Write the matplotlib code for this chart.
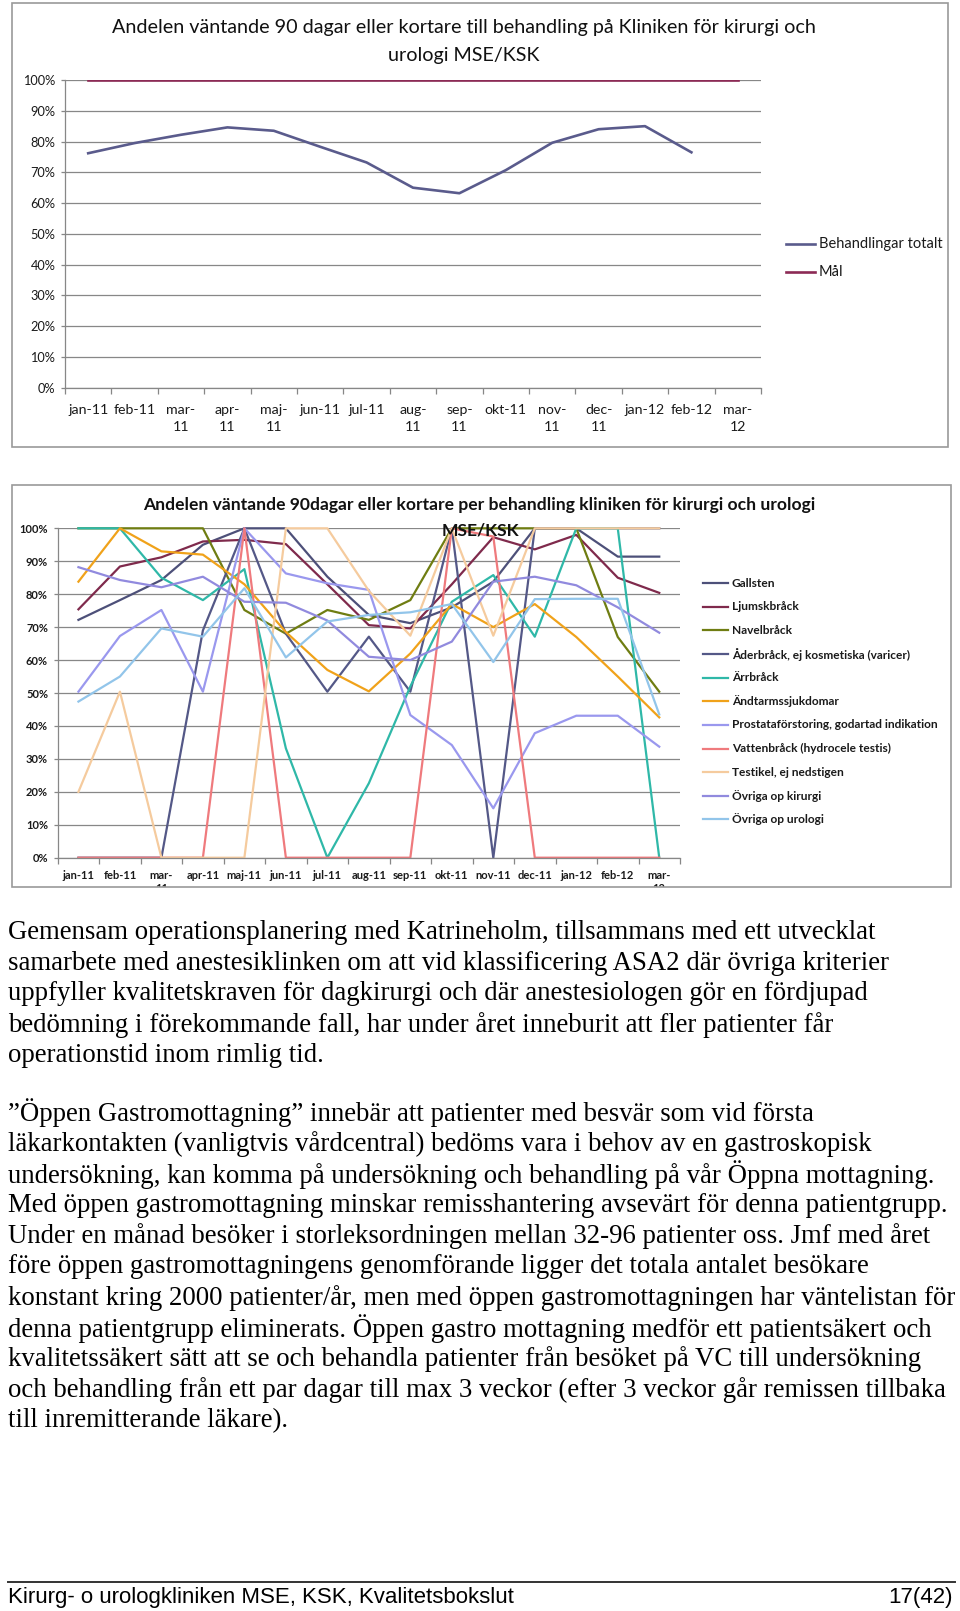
import matplotlib
matplotlib.use("Agg")
import matplotlib.pyplot as plt
from matplotlib.patches import Rectangle
from matplotlib.lines import Line2D
from matplotlib.ticker import FixedLocator, PercentFormatter
import numpy as np

# ---------------- data ----------------
top_labels = ['jan-11', 'feb-11', 'mar-\n11', 'apr-\n11', 'maj-\n11', 'jun-11', 'jul-11',
              'aug-\n11', 'sep-\n11', 'okt-11', 'nov-\n11', 'dec-\n11', 'jan-12', 'feb-12', 'mar-\n12']
behandlingar_totalt = [76.2, 79.5, 82.2, 84.6, 83.5, 78.3, 73.2, 65.0, 63.2, 70.7, 79.6, 84.0, 85.0, 76.5, np.nan]
mal = [100, 100, 100, 100, 100, 100, 100, 100, 100, 100, 100, 100, 100, 100, 100]

bottom_labels = ['jan-11', 'feb-11', 'mar-\n11', 'apr-11', 'maj-11', 'jun-11', 'jul-11', 'aug-11',
                 'sep-11', 'okt-11', 'nov-11', 'dec-11', 'jan-12', 'feb-12', 'mar-\n12']
gallsten = [72.2, 78.2, 84.3, 95.0, 100, 100, 85.3, 73.7, 71.2, 76.0, 83.8, 100, 100, 91.4, 91.4]
ljumskbrack = [75.4, 88.4, 91.2, 96.0, 96.5, 95.2, 83.0, 70.6, 69.6, 83.0, 97.3, 93.6, 98.0, 85.0, 80.4]
navelbrack = [100, 100, 100, 100, 75.2, 68.0, 75.2, 72.2, 78.2, 100, 100, 100, 100, 67.0, 50.4]
aderbrack = [0, 0, 0, 69.0, 100, 68.0, 50.4, 67.1, 50.4, 100, 0, 100, 100, 100, 100]
arrbrack = [100, 100, 85.0, 78.2, 87.6, 33.2, 0, 22.6, 52.0, 77.7, 85.8, 67.1, 100, 100, 0]
andtarm = [83.8, 100, 93.0, 92.0, 83.0, 68.5, 57.0, 50.5, 62.0, 77.0, 70.0, 77.0, 67.0, 55.0, 42.6]
prostata = [50.4, 67.3, 75.2, 50.4, 100, 86.3, 83.3, 81.3, 43.3, 34.2, 15.0, 37.8, 43.1, 43.1, 33.7]
vattenbrack = [0, 0, 0, 0, 100, 0, 0, 0, 0, 100, 97.5, 0, 0, 0, 0]
testikel = [20, 50.4, 0, 0, 0, 100, 100, 81.0, 67.4, 100, 67.4, 100, 100, 100, 100]
ovriga_kirurgi = [88.2, 84.3, 82.1, 85.3, 77.7, 77.4, 72.0, 61.0, 60.0, 65.6, 83.8, 85.3, 82.7, 76.0, 68.3]
ovriga_urologi = [47.4, 55.0, 69.6, 67.1, 81.8, 60.8, 71.7, 73.7, 74.5, 77.0, 59.4, 78.5, 78.6, 78.6, 43.5]

series_names = ['Gallsten', 'Ljumskbråck', 'Navelbråck', 'Åderbråck, ej kosmetiska (varicer)', 'Ärrbråck',
                'Ändtarmssjukdomar', 'Prostataförstoring, godartad indikation', 'Vattenbråck (hydrocele testis)',
                'Testikel, ej nedstigen', 'Övriga op kirurgi', 'Övriga op urologi']
series_values = [gallsten, ljumskbrack, navelbrack, aderbrack, arrbrack, andtarm, prostata,
                 vattenbrack, testikel, ovriga_kirurgi, ovriga_urologi]
series_colors = ['#4d5079', '#7f2a4c', '#6f7d12', '#545887', '#2fb8a8', '#f0a21a', '#9a98ee',
                 '#ef7a7d', '#f5cb9e', '#918ade', '#92c5ea']

para1 = ["Gemensam operationsplanering med Katrineholm, tillsammans med ett utvecklat",
         "samarbete med anestesiklinken om att vid klassificering ASA2 där övriga kriterier",
         "uppfyller kvalitetskraven för dagkirurgi och där anestesiologen gör en fördjupad",
         "bedömning i förekommande fall, har under året inneburit att fler patienter får",
         "operationstid inom rimlig tid."]
para2 = ["”Öppen Gastromottagning” innebär att patienter med besvär som vid första",
         "läkarkontakten (vanligtvis vårdcentral) bedöms vara i behov av en gastroskopisk",
         "undersökning, kan komma på undersökning och behandling på vår Öppna mottagning.",
         "Med öppen gastromottagning minskar remisshantering avsevärt för denna patientgrupp.",
         "Under en månad besöker i storleksordningen mellan 32-96 patienter oss. Jmf med året",
         "före öppen gastromottagningens genomförande ligger det totala antalet besökare",
         "konstant kring 2000 patienter/år, men med öppen gastromottagningen har väntelistan för",
         "denna patientgrupp eliminerats. Öppen gastro mottagning medför ett patientsäkert och",
         "kvalitetssäkert sätt att se och behandla patienter från besöket på VC till undersökning",
         "och behandling från ett par dagar till max 3 veckor (efter 3 veckor går remissen tillbaka",
         "till inremitterande läkare)."]

# ---------------- figure ----------------
W, H = 960, 1611
fig = plt.figure(figsize=(W / 100, H / 100), dpi=100)
fig.patch.set_facecolor('white')

def fx(x):
    return x / W

def fy(y):
    return 1 - y / H

SANS = ['Lato', 'DejaVu Sans']
GRID = '#878787'

def style_axes(ax, labels, xfs, yfs, weight, xpad, ypad, lsp):
    n = len(labels)
    ax.set_xlim(-0.5, n - 0.5)
    ax.set_ylim(0, 1)
    ax.set_xticks(np.arange(n))
    ax.set_xticklabels(labels, fontsize=xfs, fontweight=weight, family=SANS, linespacing=lsp, va='top')
    ax.xaxis.set_minor_locator(FixedLocator(np.arange(n + 1) - 0.5))
    ax.tick_params(axis='x', which='major', length=0, pad=xpad)
    ax.tick_params(axis='x', which='minor', length=4, color=GRID, width=0.9)
    ax.set_yticks(np.arange(0, 1.01, 0.1))
    ax.yaxis.set_major_formatter(PercentFormatter(1.0, decimals=0))
    for lab in ax.get_yticklabels():
        lab.set_fontsize(yfs)
        lab.set_fontweight(weight)
        lab.set_family(SANS)
    ax.tick_params(axis='y', length=3, color=GRID, width=0.9, pad=ypad)
    ax.yaxis.grid(True, color=GRID, lw=0.9)
    ax.set_axisbelow(True)
    for s in ['top', 'right']:
        ax.spines[s].set_visible(False)
    for s in ['left', 'bottom']:
        ax.spines[s].set_color(GRID)
        ax.spines[s].set_linewidth(0.9)
    ax.patch.set_alpha(0)

# ---------- top chart ----------
ax1 = fig.add_axes([fx(65), fy(387.7), (761 - 65) / W, (387.7 - 80) / H])
x = np.arange(len(top_labels))
ax1.plot(x, np.array(behandlingar_totalt) / 100, color='#5a5b8c', lw=1.9, label='Behandlingar totalt')
ax1.plot(x, np.array(mal) / 100, color='#8c2a55', lw=1.9, label='Mål')
style_axes(ax1, top_labels, 10.2, 9.2, 'normal', 11.5, 4, 1.55)
for lab in ax1.get_xticklabels() + ax1.get_yticklabels():
    lab.set_color('#1a1a1a')

fig.text(fx(464), fy(27.7), 'Andelen väntande 90 dagar eller kortare till behandling på Kliniken för kirurgi och',
         ha='center', va='center', fontsize=14.2, family=SANS, color='#111111')
fig.text(fx(464), fy(55.4), 'urologi MSE/KSK', ha='center', va='center', fontsize=14.2, family=SANS, color='#111111')

for yy, name, col in [(244, 'Behandlingar totalt', '#5a5b8c'), (272, 'Mål', '#8c2a55')]:
    fig.add_artist(Line2D([fx(786), fx(815)], [fy(yy), fy(yy)], color=col, lw=1.9))
    fig.text(fx(819), fy(yy), name, ha='left', va='center', fontsize=10.5, family=SANS, color='#1a1a1a')

fig.add_artist(Rectangle((fx(12), fy(446.6)), (948 - 12) / W, (446.6 - 3) / H, transform=fig.transFigure,
                         fill=False, edgecolor='#9a9a9a', lw=1.2, zorder=10))

# ---------- second chart ----------
ax2 = fig.add_axes([fx(57.7), fy(857.7), (680 - 57.7) / W, (857.7 - 528.3) / H])
x2 = np.arange(len(bottom_labels))
for name, vals, col in zip(series_names, series_values, series_colors):
    ax2.plot(x2, np.array(vals) / 100, color=col, lw=1.6, label=name, clip_on=False)
style_axes(ax2, bottom_labels, 8, 8, 'bold', 9, 4, 1.25)
for lab in ax2.get_xticklabels() + ax2.get_yticklabels():
    lab.set_color('#1a1a1a')

fig.text(fx(479), fy(505), 'Andelen väntande 90dagar eller kortare per behandling kliniken för kirurgi och urologi',
         ha='center', va='center', fontsize=12.6, fontweight='bold', family=SANS, color='#111111')
fig.text(fx(480), fy(530), 'MSE/KSK', ha='center', va='center', fontsize=12.6, fontweight='bold',
         family=SANS, color='#111111', zorder=5)

leg_y0, leg_dy = 583.3, 23.6
for k, (name, col) in enumerate(zip(series_names, series_colors)):
    yy = leg_y0 + k * leg_dy
    fig.add_artist(Line2D([fx(702.7), fx(728)], [fy(yy), fy(yy)], color=col, lw=1.6))
    fig.text(fx(731.7), fy(yy), name, ha='left', va='center', fontsize=8.6, fontweight='bold',
             family=SANS, color='#1a1a1a')

# clip the chart image at its bottom edge (as in the source page)
fig.add_artist(Rectangle((0, fy(905)), 1, (905 - 887) / H, transform=fig.transFigure,
                         facecolor='white', edgecolor='none', zorder=9))
fig.add_artist(Rectangle((fx(12), fy(887)), (951 - 12) / W, (887 - 484.6) / H, transform=fig.transFigure,
                         fill=False, edgecolor='#9a9a9a', lw=1.2, zorder=10))

# ---------- paragraphs ----------
SERIF = ['Liberation Serif', 'DejaVu Serif']
fs_par = 18.0
renderer = fig.canvas.get_renderer()
probe = fig.text(0, 0, para2[6], fontsize=fs_par, family=SERIF)
wpx = probe.get_window_extent(renderer=renderer).width
probe.remove()
fs_par = fs_par * (945.0 / wpx)

y = 932.2
for line in para1:
    fig.text(fx(8), fy(y), line, ha='left', va='center', fontsize=fs_par, family=SERIF, color='black')
    y += 30.8
y = 1113.0
for line in para2:
    fig.text(fx(8), fy(y), line, ha='left', va='center', fontsize=fs_par, family=SERIF, color='black')
    y += 30.8

# ---------- footer ----------
fig.add_artist(Line2D([fx(8), fx(955)], [fy(1582), fy(1582)], color='#333333', lw=1.4))
NARROW = ['Liberation Sans Narrow', 'Liberation Sans', 'DejaVu Sans']
fig.text(fx(8), fy(1597), 'Kirurg- o urologkliniken MSE, KSK, Kvalitetsbokslut', ha='left', va='center',
         fontsize=16.0, family=NARROW, color='black')
fig.text(fx(953), fy(1597), '17(42)', ha='right', va='center', fontsize=16.0, family=NARROW, color='black')

fig.savefig('out.png', dpi=100, facecolor='white')
